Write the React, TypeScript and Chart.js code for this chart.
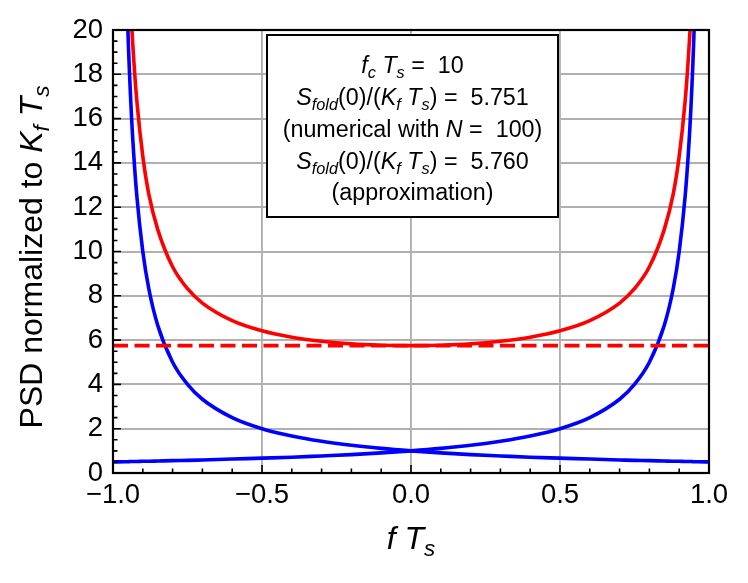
import React, { useEffect, useRef } from 'react';
import { Chart, registerables } from 'chart.js';

Chart.register(...registerables);

// Normalized frequency f*Ts
const xs = [-1, -0.96, -0.95, -0.94, -0.93, -0.92, -0.9, -0.88, -0.85, -0.8, -0.75, -0.7, -0.6, -0.5, -0.4, -0.3, -0.2, -0.1, 0,
  0.1, 0.2, 0.3, 0.4, 0.5, 0.6, 0.7, 0.75, 0.8, 0.85, 0.88, 0.9, 0.92, 0.93, 0.94, 0.95, 0.96, 1];

// Blue curve falling from the left edge
const blueFalling = [null, 25, 20, 16.67, 14.29, 12.5, 10, 8.33, 6.67, 5, 4, 3.33, 2.5, 2, 1.67, 1.43, 1.25, 1.11, 1,
  0.91, 0.83, 0.77, 0.71, 0.67, 0.63, 0.59, 0.57, 0.56, 0.54, 0.53, 0.53, 0.52, 0.52, 0.52, 0.51, 0.51, 0.5];

// Blue curve rising toward the right edge
const blueRising = [0.5, 0.51, 0.51, 0.52, 0.52, 0.52, 0.53, 0.53, 0.54, 0.56, 0.57, 0.59, 0.63, 0.67, 0.71, 0.77, 0.83, 0.91, 1,
  1.11, 1.25, 1.43, 1.67, 2, 2.5, 3.33, 4, 5, 6.67, 8.33, 10, 12.5, 14.29, 16.67, 20, 25, null];

// Red folded PSD
const redFolded = [null, 29.3, 24.3, 20.9, 18.6, 16.8, 14.3, 12.6, 11.0, 9.31, 8.32, 7.67, 6.88, 6.42, 6.13, 5.95, 5.83, 5.77, 5.751,
  5.77, 5.83, 5.95, 6.13, 6.42, 6.88, 7.67, 8.32, 9.31, 11.0, 12.6, 14.3, 16.8, 18.6, 20.9, 24.3, 29.3, null];

// Dashed reference level S_fold(0)/(Kf Ts)
const dashedX = [-1, 1];
const dashedLevel = [5.751, 5.751];

const xTicks = [-1, -0.5, 0, 0.5, 1];
const yTicks = [0, 2, 4, 6, 8, 10, 12, 14, 16, 18, 20];

const FONT = '"Liberation Sans", Arial, Helvetica, sans-serif';

type Seg = { t: string; i?: boolean; sub?: boolean };

function segFont(s: Seg, size: number) {
  const sz = s.sub ? size * 0.7 : size;
  return `${s.i ? 'italic ' : ''}${sz}px ${FONT}`;
}

function measureRich(ctx: CanvasRenderingContext2D, segs: Seg[], size: number) {
  let w = 0;
  for (const s of segs) {
    ctx.font = segFont(s, size);
    w += ctx.measureText(s.t).width;
  }
  return w;
}

function drawRich(ctx: CanvasRenderingContext2D, segs: Seg[], x: number, y: number, size: number) {
  const w = measureRich(ctx, segs, size);
  let cx = x - w / 2;
  ctx.textAlign = 'left';
  ctx.textBaseline = 'alphabetic';
  for (const s of segs) {
    ctx.font = segFont(s, size);
    ctx.fillText(s.t, cx, y + (s.sub ? size * 0.22 : 0));
    cx += ctx.measureText(s.t).width;
  }
}

const boxLines: Seg[][] = [
  [{ t: 'f', i: true }, { t: 'c', i: true, sub: true }, { t: ' ' }, { t: 'T', i: true }, { t: 's', i: true, sub: true }, { t: ' =  10' }],
  [{ t: 'S', i: true }, { t: 'fold', i: true, sub: true }, { t: '(0)/(' }, { t: 'K', i: true }, { t: 'f', i: true, sub: true }, { t: ' ' },
    { t: 'T', i: true }, { t: 's', i: true, sub: true }, { t: ') =  5.751' }],
  [{ t: '(numerical with ' }, { t: 'N', i: true }, { t: ' =  100)' }],
  [{ t: 'S', i: true }, { t: 'fold', i: true, sub: true }, { t: '(0)/(' }, { t: 'K', i: true }, { t: 'f', i: true, sub: true }, { t: ' ' },
    { t: 'T', i: true }, { t: 's', i: true, sub: true }, { t: ') =  5.760' }],
  [{ t: '(approximation)' }],
];

const xTitle: Seg[] = [{ t: 'f', i: true }, { t: ' ' }, { t: 'T', i: true }, { t: 's', i: true, sub: true }];
const yTitle: Seg[] = [{ t: 'PSD normalized to ' }, { t: 'K', i: true }, { t: 'f', i: true, sub: true }, { t: ' ' },
  { t: 'T', i: true }, { t: 's', i: true, sub: true }];

const decorPlugin = {
  id: 'decor',
  afterDatasetsDraw(chart: any) {
    const ctx: CanvasRenderingContext2D = chart.ctx;
    const { left, right, top, bottom } = chart.chartArea;
    const xs_ = chart.scales.x;
    const ys_ = chart.scales.y;
    ctx.save();
    ctx.fillStyle = '#000';
    ctx.strokeStyle = '#000';

    // ticks (inward)
    ctx.lineWidth = 1.6;
    ctx.beginPath();
    for (let k = -10; k <= 10; k++) {
      const v = k / 10;
      const px = xs_.getPixelForValue(v);
      const len = k % 5 === 0 ? 8 : 4.5;
      ctx.moveTo(px, bottom);
      ctx.lineTo(px, bottom - len);
    }
    for (let k = 0; k <= 40; k++) {
      const v = k / 2;
      const py = ys_.getPixelForValue(v);
      const len = k % 4 === 0 ? 8 : 4.5;
      ctx.moveTo(left, py);
      ctx.lineTo(left + len, py);
    }
    ctx.stroke();

    // spines
    ctx.lineWidth = 2.2;
    ctx.strokeRect(left, top, right - left, bottom - top);

    // annotation box
    const bx = 267, by = 35, bw = 291, bh = 182;
    ctx.fillStyle = '#fff';
    ctx.fillRect(bx, by, bw, bh);
    ctx.lineWidth = 2;
    ctx.strokeRect(bx, by, bw, bh);
    ctx.fillStyle = '#000';
    const baselines = [72.5, 104.5, 137, 169.2, 200];
    boxLines.forEach((segs, idx) => drawRich(ctx, segs, bx + bw / 2, baselines[idx], 23.3));

    // axis titles
    drawRich(ctx, xTitle, (left + right) / 2, 549, 32);
    ctx.translate(42, 257);
    ctx.rotate(-Math.PI / 2);
    drawRich(ctx, yTitle, 0, 0, 32);
    ctx.restore();
  },
};

const pts = (xv: number[], yv: (number | null)[]) => xv.map((x, i) => ({ x, y: yv[i] }));

export default function App() {
  const ref = useRef<HTMLCanvasElement | null>(null);
  useEffect(() => {
    document.body.style.margin = '0';
    if (!ref.current) return;
    const fmtX = (v: number) => (Math.abs(v) < 1e-9 ? '0.0' : v.toFixed(1).replace('-', '\u2212'));
    const LW = 3.6;
    const chart = new Chart(ref.current, {
      type: 'scatter',
      data: {
        datasets: [
          { data: pts(dashedX, dashedLevel), borderColor: '#ff0000', borderWidth: LW, borderDash: [15, 6.5], showLine: true, pointRadius: 0, clip: 0 } as any,
          { data: pts(xs, redFolded), borderColor: '#ff0000', borderWidth: LW, showLine: true, pointRadius: 0, cubicInterpolationMode: 'monotone', clip: 0 } as any,
          { data: pts(xs, blueRising), borderColor: '#0000ff', borderWidth: LW, showLine: true, pointRadius: 0, cubicInterpolationMode: 'monotone', clip: 0 } as any,
          { data: pts(xs, blueFalling), borderColor: '#0000ff', borderWidth: LW, showLine: true, pointRadius: 0, cubicInterpolationMode: 'monotone', clip: 0 } as any,
        ],
      },
      options: {
        animation: false,
        responsive: false,
        devicePixelRatio: 1,
        layout: { padding: { top: 30, right: 39, left: 0, bottom: 0 } },
        plugins: { legend: { display: false }, tooltip: { enabled: false } },
        scales: {
          x: {
            type: 'linear',
            min: -1,
            max: 1,
            afterFit: (s: any) => { s.height = 110; },
            afterBuildTicks: (s: any) => { s.ticks = xTicks.map((v) => ({ value: v })); },
            ticks: {
              callback: (v: any) => fmtX(Number(v)),
              font: { family: FONT, size: 27.5 },
              color: '#000',
              padding: 6,
              maxRotation: 0,
              autoSkip: false,
            },
            grid: { color: '#b0b0b0', lineWidth: 1.9, drawTicks: false },
            border: { display: false },
          },
          y: {
            type: 'linear',
            min: 0,
            max: 20,
            afterFit: (s: any) => { s.width = 113; },
            afterBuildTicks: (s: any) => { s.ticks = yTicks.map((v) => ({ value: v })); },
            ticks: {
              callback: (v: any) => String(v),
              font: { family: FONT, size: 27.5 },
              color: '#000',
              padding: 10,
              autoSkip: false,
            },
            grid: { color: '#b0b0b0', lineWidth: 1.9, drawTicks: false },
            border: { display: false },
          },
        },
      } as any,
      plugins: [decorPlugin],
    });
    return () => chart.destroy();
  }, []);
  return (
    <div style={{ width: 748, height: 583 }}>
      <canvas ref={ref} width={748} height={583} style={{ display: 'block', width: 748, height: 583 }} />
    </div>
  );
}
